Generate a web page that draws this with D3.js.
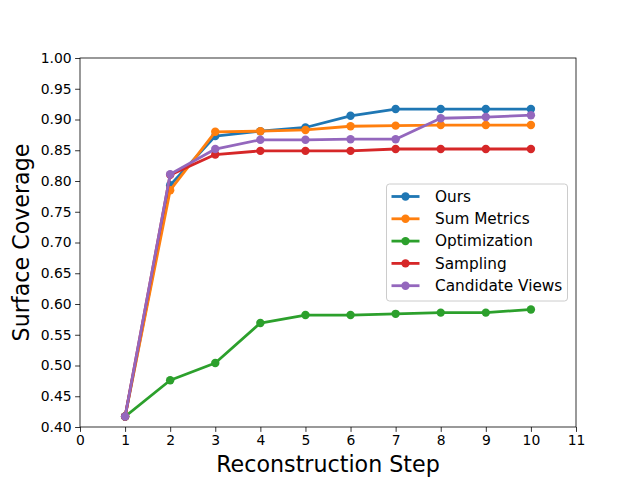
<!DOCTYPE html>
<html>
<head>
<meta charset="utf-8">
<script src="https://cdn.jsdelivr.net/npm/d3@7"></script>
<style>
  body { margin: 0; background: #fff; }
  svg { font-family: "DejaVu Sans", sans-serif; }
</style>
</head>
<body>
<div class="chart"></div>
<script>
const steps = [1, 2, 3, 4, 5, 6, 7, 8, 9, 10];
const seriesNames = ["Ours", "Sum Metrics", "Optimization", "Sampling", "Candidate Views"];
const ours = [0.417, 0.793, 0.873, 0.881, 0.887, 0.906, 0.917, 0.917, 0.917, 0.917];
const sumMetrics = [0.417, 0.785, 0.880, 0.881, 0.883, 0.889, 0.890, 0.891, 0.891, 0.891];
const optimization = [0.417, 0.476, 0.504, 0.569, 0.582, 0.582, 0.584, 0.586, 0.586, 0.591];
const sampling = [0.417, 0.810, 0.843, 0.849, 0.849, 0.849, 0.852, 0.852, 0.852, 0.852];
const candidateViews = [0.417, 0.811, 0.852, 0.867, 0.867, 0.868, 0.868, 0.902, 0.904, 0.907];
const colors = ["#1f77b4", "#ff7f0e", "#2ca02c", "#d62728", "#9467bd"];
const xTicks = [0, 1, 2, 3, 4, 5, 6, 7, 8, 9, 10, 11];
const yTicks = [0.40, 0.45, 0.50, 0.55, 0.60, 0.65, 0.70, 0.75, 0.80, 0.85, 0.90, 0.95, 1.00];

const allSeries = [ours, sumMetrics, optimization, sampling, candidateViews];

const width = 640, height = 480;
const plotLeft = 80, plotRight = 576, plotTop = 58, plotBottom = 427;

const svg = d3.select(".chart").append("svg")
  .attr("width", width)
  .attr("height", height);

const x = d3.scaleLinear().domain([0, 11]).range([plotLeft, plotRight]);
const y = d3.scaleLinear().domain([0.4, 1.0]).range([plotBottom, plotTop]);

// axes
const xAxis = svg.append("g")
  .attr("transform", "translate(0," + plotBottom + ")")
  .call(d3.axisBottom(x).tickValues(xTicks).tickFormat(d3.format("d")).tickSize(4.9).tickPadding(3.5));

const yAxis = svg.append("g")
  .attr("transform", "translate(" + plotLeft + ",0)")
  .call(d3.axisLeft(y).tickValues(yTicks).tickFormat(d3.format(".2f")).tickSize(4.9).tickPadding(3.5));

[xAxis, yAxis].forEach(function(a) {
  a.select(".domain").remove();
  a.selectAll("line").attr("stroke", "#000").attr("stroke-width", 0.8);
  a.selectAll("text")
    .style("font-family", "DejaVu Sans")
    .style("font-size", "13.9px")
    .attr("fill", "#000");
});

// frame
svg.append("rect")
  .attr("x", plotLeft).attr("y", plotTop)
  .attr("width", plotRight - plotLeft).attr("height", plotBottom - plotTop)
  .attr("fill", "none").attr("stroke", "#000").attr("stroke-width", 0.8);

// lines
const line = d3.line()
  .x(function(d, i) { return x(steps[i]); })
  .y(function(d) { return y(d); });

allSeries.forEach(function(vals, k) {
  const g = svg.append("g");
  g.append("path")
    .datum(vals)
    .attr("d", line)
    .attr("fill", "none")
    .attr("stroke", colors[k])
    .attr("stroke-width", 2.8)
    .attr("stroke-linejoin", "round")
    .attr("stroke-linecap", "square");
  g.selectAll("circle")
    .data(vals)
    .enter()
    .append("circle")
    .attr("cx", function(d, i) { return x(steps[i]); })
    .attr("cy", function(d) { return y(d); })
    .attr("r", 4.2)
    .attr("fill", colors[k]);
});

// axis labels
svg.append("text")
  .attr("x", (plotLeft + plotRight) / 2)
  .attr("y", 472)
  .style("text-anchor", "middle")
  .style("font-size", "22.2px")
  .attr("fill", "#000")
  .text("Reconstruction Step");

svg.append("text")
  .attr("transform", "translate(29," + (plotTop + plotBottom) / 2 + ") rotate(-90)")
  .style("text-anchor", "middle")
  .style("font-size", "22.2px")
  .attr("fill", "#000")
  .text("Surface Coverage");

// legend
const legend = svg.append("g").attr("transform", "translate(386.5,184)");
legend.append("rect")
  .attr("width", 181).attr("height", 117)
  .attr("rx", 3)
  .attr("fill", "#fff").attr("fill-opacity", 0.8)
  .attr("stroke", "#ccc").attr("stroke-width", 1);

seriesNames.forEach(function(name, k) {
  const ly = 12.5 + k * 22.3;
  legend.append("line")
    .attr("x1", 5).attr("x2", 33)
    .attr("y1", ly).attr("y2", ly)
    .attr("stroke", colors[k]).attr("stroke-width", 2.8);
  legend.append("circle")
    .attr("cx", 19).attr("cy", ly).attr("r", 4.2)
    .attr("fill", colors[k]);
  legend.append("text")
    .attr("x", 48.5).attr("y", ly)
    .attr("dy", "0.35em")
    .style("font-size", "15.3px")
    .attr("fill", "#000")
    .text(name);
});
</script>
</body>
</html>
